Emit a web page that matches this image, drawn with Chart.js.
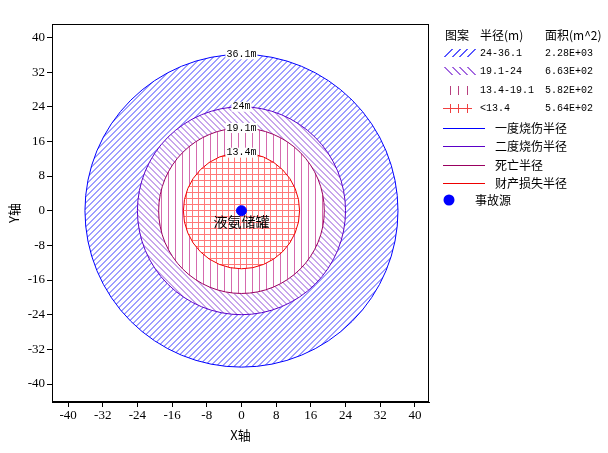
<!DOCTYPE html>
<html lang="zh">
<head>
    <meta charset="UTF-8">
    <title>事故影响半径</title>
    <script src="https://cdn.jsdelivr.net/npm/chart.js"></script>
    <style>
        body {
            margin: 0;
            padding: 0;
            background-color: #fff;
        }
        #chart-box {
            position: relative;
            width: 608px;
            height: 453px;
        }
    </style>
</head>
<body>
    <div id="chart-box">
        <canvas id="radius-chart"></canvas>
    </div>

    <script>
        // radii of the four zones (m), outer to inner
        const radii = [36.1, 24, 19.1, 13.4];
        const radiusLabels = ['36.1m', '24m', '19.1m', '13.4m'];
        const zoneNames = ['24-36.1', '19.1-24', '13.4-19.1', '<13.4'];
        const zoneAreas = ['2.28E+03', '6.63E+02', '5.82E+02', '5.64E+02'];
        const lineNames = ['一度烧伤半径', '二度烧伤半径', '死亡半径', '财产损失半径'];
        const sourceX = [0];
        const sourceY = [0];
        const sourceName = '液氨储罐';
        const sourceLegend = '事故源';
        const tickValues = [-40, -32, -24, -16, -8, 0, 8, 16, 24, 32, 40];

        const lineColors = ['#0000ff', '#5a00c8', '#990060', '#ee0000'];
        const hatchKinds = ['slash', 'backslash', 'vertical', 'grid'];
        const hatchColors = ['#9e9eff', '#c8a6ec', '#d56aae', '#ff7878'];
        const swatchColors = ['#5858ff', '#a46ae0', '#b8407f', '#f04040'];

        const monoFont = '10px "Liberation Mono", monospace';
        const cjkFont = '12px "Noto Sans CJK SC", sans-serif';

        // pixel tile for each fill style, so the lines come out crisp
        function makePattern(ctx, kind, color) {
            const size = kind === 'vertical' ? 7 : 6;
            const tile = document.createElement('canvas');
            tile.width = size;
            tile.height = size;
            const t = tile.getContext('2d');
            t.fillStyle = color;
            for (let i = 0; i < size; i++) {
                const j = (i + 1) % size;
                if (kind === 'slash') {
                    t.fillRect(i, size - 1 - i, 1, 1);
                    t.fillRect(j, size - 1 - i, 1, 1);
                }
                if (kind === 'backslash') {
                    t.fillRect(i, i, 1, 1);
                    t.fillRect(j, i, 1, 1);
                }
            }
            if (kind === 'vertical') t.fillRect(0, 0, 1, size);
            if (kind === 'grid') {
                t.fillRect(0, 0, 1, size);
                t.fillRect(0, 0, size, 1);
            }
            return ctx.createPattern(tile, 'repeat');
        }

        function drawSwatch(ctx, kind, color, y) {
            ctx.save();
            ctx.fillStyle = color;
            if (kind === 'slash' || kind === 'backslash') {
                for (let k = 0; k < 4; k++) {
                    const x0 = 444 + k * 7.5;
                    for (let i = 0; i < 8; i++) {
                        const py = kind === 'slash' ? y + 3 - i : y - 4 + i;
                        ctx.fillRect(Math.round(x0 + i), py, 2, 1);
                    }
                }
            } else {
                [450, 458, 467].forEach(x => ctx.fillRect(x, y - 4, 1, 9));
                if (kind === 'grid') ctx.fillRect(443, y, 29, 1);
            }
            ctx.restore();
        }

        const zonePlugin = {
            id: 'zones',
            beforeDatasetsDraw(chart) {
                const ctx = chart.ctx;
                const xs = chart.scales.x;
                const ys = chart.scales.y;
                const cx = xs.getPixelForValue(sourceX[0]);
                const cy = ys.getPixelForValue(sourceY[0]);

                // filled zones
                radii.forEach((r, i) => {
                    const rx = xs.getPixelForValue(r) - cx;
                    const ry = cy - ys.getPixelForValue(r);
                    const inner = radii[i + 1] || 0;
                    const irx = xs.getPixelForValue(inner) - cx;
                    const iry = cy - ys.getPixelForValue(inner);
                    ctx.save();
                    ctx.beginPath();
                    ctx.ellipse(cx, cy, rx, ry, 0, 0, Math.PI * 2);
                    if (inner > 0) {
                        ctx.moveTo(cx + irx, cy);
                        ctx.ellipse(cx, cy, irx, iry, 0, 0, Math.PI * 2);
                    }
                    ctx.fillStyle = makePattern(ctx, hatchKinds[i], hatchColors[i]);
                    ctx.fill('evenodd');
                    ctx.restore();
                });

                // radius outlines
                radii.forEach((r, i) => {
                    const rx = xs.getPixelForValue(r) - cx;
                    const ry = cy - ys.getPixelForValue(r);
                    ctx.save();
                    ctx.strokeStyle = lineColors[i];
                    ctx.lineWidth = 1;
                    ctx.beginPath();
                    ctx.ellipse(cx, cy, rx, ry, 0, 0, Math.PI * 2);
                    ctx.stroke();
                    ctx.restore();
                });

                // radius labels on top of each circle
                ctx.save();
                ctx.font = monoFont;
                ctx.textAlign = 'center';
                ctx.textBaseline = 'middle';
                radii.forEach((r, i) => {
                    const y = ys.getPixelForValue(r);
                    const w = ctx.measureText(radiusLabels[i]).width + 2;
                    ctx.fillStyle = '#fff';
                    ctx.fillRect(cx - w / 2, y - 5, w, 10);
                    ctx.fillStyle = '#000';
                    ctx.fillText(radiusLabels[i], cx, y);
                });
                ctx.restore();
            },
            afterDatasetsDraw(chart) {
                const ctx = chart.ctx;
                const xs = chart.scales.x;
                const ys = chart.scales.y;
                ctx.save();
                ctx.font = '14px "Noto Sans CJK SC", sans-serif';
                ctx.fillStyle = '#000';
                ctx.textAlign = 'center';
                ctx.textBaseline = 'middle';
                ctx.fillText(sourceName, xs.getPixelForValue(sourceX[0]), ys.getPixelForValue(sourceY[0]) + 11);
                ctx.restore();
            },
            afterDraw(chart) {
                const ctx = chart.ctx;
                const a = chart.chartArea;
                ctx.save();
                // frame round the plot
                ctx.strokeStyle = '#000';
                ctx.lineWidth = 1;
                ctx.strokeRect(a.left + 0.5, a.top + 0.5, a.right - a.left - 1, a.bottom - a.top - 1);

                // legend
                ctx.fillStyle = '#000';
                ctx.textBaseline = 'middle';
                ctx.font = cjkFont;
                ctx.fillText('图案', 445, 35);
                ctx.fillText('半径(m)', 480, 35);
                ctx.fillText('面积(m^2)', 545, 35);

                const rowY = [53, 71, 90, 108];
                zoneNames.forEach((name, i) => {
                    const y = rowY[i];
                    drawSwatch(ctx, hatchKinds[i], swatchColors[i], y);
                    ctx.fillStyle = '#000';
                    ctx.font = monoFont;
                    ctx.fillText(name, 480, y);
                    ctx.fillText(zoneAreas[i], 545, y);
                });

                const lineY = [128, 146, 165, 183];
                lineNames.forEach((name, i) => {
                    const y = lineY[i];
                    ctx.strokeStyle = lineColors[i];
                    ctx.beginPath();
                    ctx.moveTo(443, y + 0.5);
                    ctx.lineTo(485, y + 0.5);
                    ctx.stroke();
                    ctx.fillStyle = '#000';
                    ctx.font = cjkFont;
                    ctx.fillText(name, 495, y);
                });

                ctx.fillStyle = '#0000ff';
                ctx.beginPath();
                ctx.arc(449, 200, 5.5, 0, Math.PI * 2);
                ctx.fill();
                ctx.fillStyle = '#000';
                ctx.font = cjkFont;
                ctx.fillText(sourceLegend, 475, 200);
                ctx.restore();
            }
        };

        const tickFont = { family: '"Liberation Serif", serif', size: 13 };
        const titleFont = { family: '"Noto Sans CJK SC", sans-serif', size: 13 };

        function setTicks(scale) {
            scale.ticks = tickValues.map(v => ({ value: v }));
        }

        new Chart(document.getElementById('radius-chart'), {
            type: 'scatter',
            data: {
                datasets: [{
                    label: sourceLegend,
                    data: sourceX.map((x, i) => ({ x: x, y: sourceY[i] })),
                    backgroundColor: '#0000ff',
                    borderColor: '#0000ff',
                    pointRadius: 5,
                    pointHoverRadius: 5
                }]
            },
            options: {
                responsive: true,
                maintainAspectRatio: false,
                animation: false,
                layout: { padding: { left: 0, top: 24, right: 179, bottom: 0 } },
                plugins: {
                    legend: { display: false },
                    tooltip: { enabled: false }
                },
                scales: {
                    x: {
                        type: 'linear',
                        min: -43.7,
                        max: 43.25,
                        afterBuildTicks: setTicks,
                        afterFit(scale) { scale.height = 51; },
                        grid: {
                            drawOnChartArea: false,
                            drawTicks: true,
                            tickLength: 5,
                            color: '#000'
                        },
                        border: { display: true, color: '#000' },
                        ticks: { color: '#000', font: tickFont, padding: 1, maxRotation: 0 },
                        title: {
                            display: true,
                            text: 'X轴',
                            color: '#000',
                            font: titleFont,
                            padding: { top: 0, bottom: 10 }
                        }
                    },
                    y: {
                        type: 'linear',
                        min: -44.15,
                        max: 43.1,
                        afterBuildTicks: setTicks,
                        afterFit(scale) { scale.width = 52; },
                        grid: {
                            drawOnChartArea: false,
                            drawTicks: true,
                            tickLength: 5,
                            color: '#000'
                        },
                        border: { display: true, color: '#000' },
                        ticks: { color: '#000', font: tickFont, padding: 2 },
                        title: {
                            display: true,
                            text: 'Y轴',
                            color: '#000',
                            font: titleFont,
                            padding: { top: 6, bottom: 0 }
                        }
                    }
                }
            },
            plugins: [zonePlugin]
        });
    </script>
</body>
</html>
